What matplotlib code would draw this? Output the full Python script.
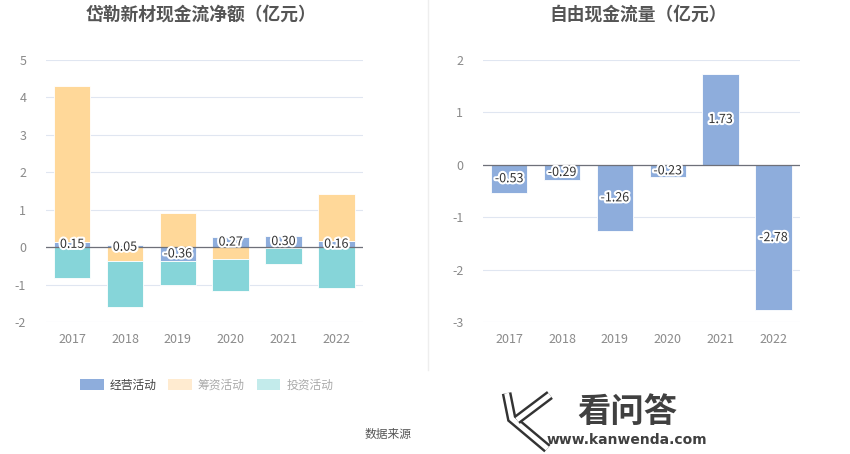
import matplotlib
matplotlib.use('Agg')
import matplotlib.pyplot as plt
import matplotlib.patheffects as pe
from matplotlib.patches import Patch
from matplotlib.lines import Line2D

plt.rcParams['font.family'] = ['Noto Sans CJK SC', 'DejaVu Sans']
plt.rcParams['axes.unicode_minus'] = False

years = ['2017', '2018', '2019', '2020', '2021', '2022']
operating = [0.15, 0.05, -0.36, 0.27, 0.30, 0.16]
financing = [4.17, -0.37, 0.90, -0.31, -0.01, 1.27]
investing = [-0.83, -1.22, -0.66, -0.87, -0.44, -1.10]
free_cf = [-0.53, -0.29, -1.26, -0.23, 1.73, -2.78]

series_names = ['经营活动', '筹资活动', '投资活动']
colors = ['#8eaddc', '#ffd899', '#86d5d9']
legend_colors = ['#8eaddc', '#ffebd0', '#c3ebeb']
legend_text = ['#444444', '#aaaaaa', '#aaaaaa']

grid_c = '#e0e6f1'
tick_c = '#8a8a8a'
stroke = [pe.withStroke(linewidth=3, foreground='white')]

fig = plt.figure(figsize=(8.5, 4.54), dpi=100)


def style_axis(ax, ylim, yticks):
    ax.set_ylim(*ylim)
    ax.set_yticks(yticks)
    ax.set_xlim(-0.5, len(years) - 0.5)
    ax.set_xticks(range(len(years)))
    ax.set_xticklabels(years)
    ax.grid(axis='y', color=grid_c, linewidth=0.8)
    ax.set_axisbelow(True)
    for s in ax.spines.values():
        s.set_visible(False)
    ax.tick_params(axis='both', length=0, colors=tick_c, labelsize=9)
    ax.tick_params(axis='x', pad=8)
    ax.tick_params(axis='y', pad=14)
    ax.axhline(0, color='#6e7079', linewidth=0.9, zorder=3)


# left chart: stacked, positives and negatives stacked separately
ax1 = fig.add_axes([0.0538, 0.2907, 0.373, 0.577])
x = list(range(len(years)))
pos_base = [0.0] * len(years)
neg_base = [0.0] * len(years)
for vals, c, name in zip([operating, financing, investing], colors, series_names):
    bottoms = []
    for i, v in enumerate(vals):
        if v >= 0:
            bottoms.append(pos_base[i])
            pos_base[i] += v
        else:
            bottoms.append(neg_base[i])
            neg_base[i] += v
    ax1.bar(x, vals, bottom=bottoms, width=0.69, color=c, edgecolor='white',
            linewidth=0.6, zorder=2, label=name)
style_axis(ax1, (-2, 5), range(-2, 6))
for i, v in enumerate(operating):
    ax1.text(i, v / 2 if abs(v) > 0.1 else 0.0, f'{v:.2f}', ha='center', va='center',
             fontsize=9, color='#333333', path_effects=stroke, zorder=5)

# right chart: free cash flow
ax2 = fig.add_axes([0.568, 0.2907, 0.373, 0.577])
ax2.bar(x, free_cf, width=0.69, color=colors[0], edgecolor='white', linewidth=0.6, zorder=2)
style_axis(ax2, (-3, 2), range(-3, 3))
for i, v in enumerate(free_cf):
    ax2.text(i, v / 2, f'{v:.2f}', ha='center', va='center',
             fontsize=9, color='#333333', path_effects=stroke, zorder=5)

# titles
fig.text(0.236, 0.968, '岱勒新材现金流净额（亿元）', ha='center', va='center',
         fontsize=12.8, fontweight='bold', color='#555555')
fig.text(0.751, 0.968, '自由现金流量（亿元）', ha='center', va='center',
         fontsize=12.8, fontweight='bold', color='#555555')

# divider
fig.add_artist(Line2D([0.503, 0.503], [0.185, 1.0], color='#eeeeee', linewidth=1))

# legend
handles = [Patch(facecolor=c, edgecolor='none') for c in legend_colors]
leg = fig.legend(handles, series_names, loc='center', bbox_to_anchor=(0.243, 0.152),
                 ncol=3, frameon=False, fontsize=8.5, handlelength=2.0, handleheight=1.0,
                 columnspacing=1.0, handletextpad=0.5)
for t, c in zip(leg.get_texts(), legend_text):
    t.set_color(c)

fig.text(0.456, 0.044, '数据来源', ha='center', va='center', fontsize=8.5, color='#555555')

# watermark logo
k_lines = [[(0.596, 0.134), (0.602, 0.078), (0.644, 0.012)],
           [(0.647, 0.130), (0.608, 0.075)]]
for pts in k_lines:
    xs = [p[0] for p in pts]
    ys = [p[1] for p in pts]
    fig.add_artist(Line2D(xs, ys, color='#333333', linewidth=7, solid_capstyle='butt',
                          solid_joinstyle='miter'))
    fig.add_artist(Line2D(xs, ys, color='white', linewidth=3.5, solid_capstyle='butt',
                          solid_joinstyle='miter'))
fig.text(0.738, 0.092, '看问答', ha='center', va='center', fontsize=24,
         fontweight='bold', color='#404040')
fig.text(0.738, 0.030, 'www.kanwenda.com', ha='center', va='center', fontsize=10,
         fontweight='bold', color='#404040', family=['DejaVu Sans'])

fig.savefig('out.png', dpi=100)
